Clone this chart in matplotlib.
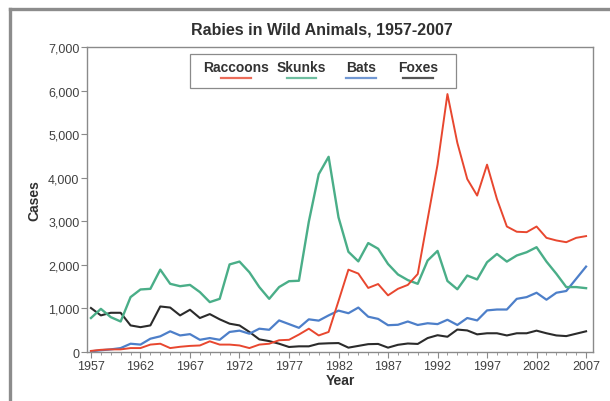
import numpy as np
import matplotlib.pyplot as plt
from matplotlib.lines import Line2D
from matplotlib.patches import Rectangle
from matplotlib.ticker import MultipleLocator, FuncFormatter

plt.rcParams['font.family'] = ['Liberation Sans', 'DejaVu Sans']

years = np.arange(1957, 2008)

raccoons = [25, 50, 60, 60, 90, 90, 170, 190, 90, 120,
            140, 150, 245, 170, 170, 150, 90, 170, 190, 270,
            280, 400, 535, 380, 460, 1170, 1890, 1800, 1470, 1560,
            1300, 1450, 1540, 1790, 3050, 4300, 5920, 4800, 3970, 3590,
            4300, 3510, 2880, 2760, 2750, 2880, 2620, 2560, 2520, 2620,
            2660]
skunks = [780, 990, 800, 700, 1260, 1435, 1450, 1890, 1565, 1510,
          1540, 1375, 1145, 1220, 2010, 2075, 1830, 1490, 1220, 1490,
          1625, 1635, 2990, 4080, 4480, 3090, 2300, 2080, 2500, 2370,
          2020, 1780, 1650, 1565, 2100, 2320, 1630, 1440, 1755, 1665,
          2060, 2250, 2075, 2215, 2290, 2405, 2075, 1795, 1490, 1490,
          1465]
bats = [15, 40, 60, 90, 190, 170, 305, 360, 475, 380,
        410, 280, 320, 280, 460, 490, 420, 535, 510, 725,
        640, 555, 750, 720, 840, 950, 890, 1020, 810, 760,
        615, 625, 700, 620, 660, 640, 740, 620, 780, 725,
        955, 975, 975, 1220, 1260, 1360, 1200, 1360, 1400, 1680,
        1960]
foxes = [1010, 840, 900, 900, 610, 570, 610, 1045, 1020, 840,
         970, 780, 870, 750, 650, 610, 460, 290, 250, 190,
         115, 130, 130, 190, 200, 205, 100, 140, 180, 185,
         100, 165, 195, 185, 320, 385, 350, 515, 495, 405,
         430, 430, 380, 430, 430, 490, 430, 380, 365, 420,
         475]

names = ['Raccoons', 'Skunks', 'Bats', 'Foxes']
colors = ['#e8472f', '#4aae88', '#4d7fc9', '#2b2b2b']

fig = plt.figure(figsize=(6.1, 4.02), dpi=100)

# grey frame round the figure (left and top only show)
fig.add_artist(Line2D([10 / 610, 10 / 610], [0, 1 - 10 / 402], color='#8c8c8c', lw=2.4))
fig.add_artist(Line2D([10 / 610, 1], [1 - 10 / 402, 1 - 10 / 402], color='#8c8c8c', lw=2.4))

ax = fig.add_axes([87 / 610, 1 - 353 / 402, 506 / 610, 305 / 402])

for vals, c, lw in zip([foxes, bats, skunks, raccoons],
                       [colors[3], colors[2], colors[1], colors[0]],
                       [1.5, 1.6, 1.7, 1.4]):
    ax.plot(years, vals, color=c, lw=lw)

ax.set_xlim(1956.6, 2007.7)
ax.set_ylim(0, 7000)
ax.xaxis.set_minor_locator(MultipleLocator(1))
ax.set_xticks(np.arange(1957, 2008, 5))
ax.set_yticks(np.arange(0, 7001, 1000))
ax.yaxis.set_major_formatter(FuncFormatter(lambda v, p: f'{v:,.0f}'))

for s in ax.spines.values():
    s.set_color('#8a8a8a')
    s.set_linewidth(1.0)
ax.tick_params(axis='both', which='major', length=4, color='#8a8a8a',
               labelcolor='#404040', labelsize=9, pad=1.5)
ax.tick_params(axis='x', which='minor', length=2.5, color='#8a8a8a')

ax.set_xlabel('Year', fontsize=10, fontweight='bold', color='#303030', labelpad=1)
ax.set_ylabel('Cases', fontsize=10, fontweight='bold', color='#303030', labelpad=5)
fig.text(322 / 610, 1 - 30 / 402, 'Rabies in Wild Animals, 1957-2007',
         ha='center', va='center', fontsize=11.5, fontweight='bold', color='#303030')

# legend: label with a short coloured line under it
ax.add_patch(Rectangle((0.2036, 0.8656), 0.5256, 0.1114, transform=ax.transAxes,
                       facecolor='white', edgecolor='#8a8a8a', lw=0.9, zorder=5))
label_x = [0.2945, 0.4239, 0.5415, 0.6542]
for name, c, lx in zip(names, colors, label_x):
    ax.text(lx, 0.934, name, transform=ax.transAxes, ha='center', va='center',
            fontsize=10, fontweight='bold', color='#333333', zorder=6)
    ax.plot([lx - 0.029, lx + 0.029], [0.9, 0.9], transform=ax.transAxes,
            color=c, lw=1.6, alpha=0.8, zorder=6, clip_on=False)

fig.savefig('out.png', dpi=100)
